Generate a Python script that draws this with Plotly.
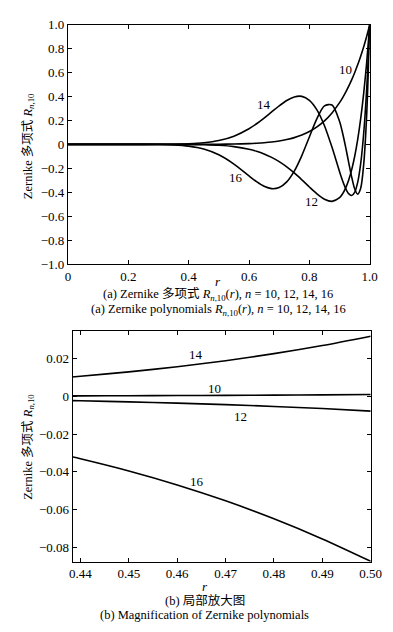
import plotly.graph_objects as go

# ---------- data: panel (a) ----------
r_full = [0, 0.1, 0.2, 0.3, 0.35, 0.4, 0.45, 0.5, 0.55, 0.6, 0.625, 0.65, 0.675, 0.7,
          0.725, 0.75, 0.775, 0.8, 0.825, 0.85, 0.875, 0.9, 0.91, 0.92, 0.93, 0.94,
          0.95, 0.96, 0.97, 0.98, 0.99, 1.0]
R10 = [0, 0, 0, 0.0000059, 0.0000276, 0.000105, 0.000341, 0.000977, 0.002533, 0.006047,
       0.009095, 0.013463, 0.019635, 0.028248, 0.040122, 0.056314, 0.078166, 0.107374,
       0.146063, 0.196875, 0.263076, 0.348678, 0.389416, 0.434388, 0.483982, 0.538615,
       0.598737, 0.664833, 0.737424, 0.817073, 0.904382, 1.0]
R12 = [0, 0, 0, -0.000059, -0.000263, -0.000952, -0.002918, -0.007813, -0.018668, -0.040391,
       -0.057412, -0.079835, -0.108630, -0.144627, -0.188270, -0.239330, -0.296440, -0.356480,
       -0.413730, -0.458720, -0.476820, -0.446310, -0.413870, -0.366270, -0.300650, -0.213720,
       -0.101790, 0.039360, 0.214440, 0.428800, 0.688420, 1.0]
R14 = [0, 0, 0, 0.000311, 0.001331, 0.004548, 0.012988, 0.031921, 0.068739, 0.130810,
       0.172330, 0.219900, 0.271230, 0.322280, 0.366880, 0.396620, 0.401030, 0.368680,
       0.288960, 0.156040, -0.024970, -0.228350, -0.303860, -0.367750, -0.412210, -0.427340,
       -0.401100, -0.318460, -0.161270, 0.092410, 0.469010, 1.0]
R16 = [0, 0, 0, -0.001171, -0.004736, -0.015092, -0.039566, -0.087463, -0.164840, -0.263980,
       -0.312330, -0.350790, -0.370230, -0.360820, -0.313700, -0.223900, -0.093990, 0.061910,
       0.215370, 0.321990, 0.328710, 0.191950, 0.094860, -0.021200, -0.148000, -0.271420,
       -0.370910, -0.416380, -0.366940, -0.166840, 0.257210, 1.0]

# ---------- data: panel (b) ----------
r_zoom = [0.438, 0.44, 0.45, 0.46, 0.47, 0.48, 0.49, 0.5]
Z10 = [0.000260, 0.000272, 0.000341, 0.000424, 0.000526, 0.000649, 0.000798, 0.000977]
Z12 = [-0.002260, -0.002360, -0.002918, -0.003589, -0.004392, -0.005347, -0.006478, -0.007813]
Z14 = [0.010244, 0.010664, 0.012988, 0.015723, 0.018925, 0.022651, 0.026962, 0.031921]
Z16 = [-0.031908, -0.033095, -0.039566, -0.046979, -0.055412, -0.064934, -0.075602, -0.087463]

# ---------- tick labels ----------
xa_vals = [0, 0.2, 0.4, 0.6, 0.8, 1.0]
xa_text = ["0", "0.2", "0.4", "0.6", "0.8", "1.0"]
ya_vals = [1.0, 0.8, 0.6, 0.4, 0.2, 0, -0.2, -0.4, -0.6, -0.8, -1.0]
ya_text = ["1.0", "0.8", "0.6", "0.4", "0.2", "0", "\u22120.2", "\u22120.4", "\u22120.6",
           "\u22120.8", "\u22121.0"]
xb_vals = [0.44, 0.45, 0.46, 0.47, 0.48, 0.49, 0.50]
xb_text = ["0.44", "0.45", "0.46", "0.47", "0.48", "0.49", "0.50"]
yb_vals = [0.02, 0, -0.02, -0.04, -0.06, -0.08]
yb_text = ["0.02", "0", "\u22120.02", "\u22120.04", "\u22120.06", "\u22120.08"]

# curve labels
labels_a = [("10", 0.92, 0.63), ("14", 0.649, 0.33), ("16", 0.556, -0.28), ("12", 0.808, -0.48)]
labels_b = [("14", 0.4639, 0.0223), ("10", 0.4677, 0.0042), ("12", 0.4731, -0.0109),
            ("16", 0.4641, -0.0452)]

FONT = "'Liberation Serif', 'Noto Sans CJK SC', serif"
W, H = 393, 632

fig = go.Figure()
line = dict(color="black", width=1.6, shape="spline", smoothing=0.8)
for ys in (R10, R12, R14, R16):
    fig.add_trace(go.Scatter(x=r_full, y=ys, mode="lines", line=line,
                             xaxis="x", yaxis="y", showlegend=False, hoverinfo="skip"))
for ys in (Z10, Z12, Z14, Z16):
    fig.add_trace(go.Scatter(x=r_zoom, y=ys, mode="lines", line=line,
                             xaxis="x2", yaxis="y2", showlegend=False, hoverinfo="skip"))

def px_x(p):
    return p / W

def px_y(p):
    return 1 - p / H

axis_common = dict(showline=True, linecolor="black", linewidth=1, mirror="ticks",
                   ticks="inside", ticklen=4, tickcolor="black", showgrid=False,
                   zeroline=False, tickfont=dict(family=FONT, size=13, color="black"))

fig.update_layout(
    width=W, height=H, margin=dict(l=0, r=0, t=0, b=0),
    paper_bgcolor="white", plot_bgcolor="white",
    font=dict(family=FONT, size=13, color="black"),
    xaxis=dict(domain=[px_x(59), px_x(372)], range=[0, 1], tickvals=xa_vals,
               ticktext=xa_text, anchor="y", **axis_common),
    yaxis=dict(domain=[px_y(255), px_y(10)], range=[-1, 1], tickvals=ya_vals,
               ticktext=ya_text, anchor="x", **axis_common),
    xaxis2=dict(domain=[px_x(64), px_x(373)], range=[0.4384, 0.5], tickvals=xb_vals,
                ticktext=xb_text, anchor="y2", **axis_common),
    yaxis2=dict(domain=[px_y(560), px_y(324)], range=[-0.0877, 0.0345], tickvals=yb_vals,
                ticktext=yb_text, anchor="x2", **axis_common),
)

ann = []
for t, x, y in labels_a:
    ann.append(dict(text=t, x=x, y=y, xref="x", yref="y", showarrow=False,
                    xanchor="center", yanchor="middle", font=dict(family=FONT, size=13)))
for t, x, y in labels_b:
    ann.append(dict(text=t, x=x, y=y, xref="x2", yref="y2", showarrow=False,
                    xanchor="center", yanchor="middle", font=dict(family=FONT, size=13)))

ytitle = "Zernike 多项式 <i>R</i><sub><i>n</i>,10</sub>"
for yc in (134, 442):
    ann.append(dict(text=ytitle, x=px_x(18), y=px_y(yc), xref="paper", yref="paper",
                    xanchor="center", yanchor="middle", textangle=-90, showarrow=False,
                    font=dict(family=FONT, size=12.5)))

def cap(text, xc, yc, size=12.5):
    ann.append(dict(text=text, x=px_x(xc), y=px_y(yc), xref="paper", yref="paper",
                    showarrow=False, xanchor="center", yanchor="middle",
                    font=dict(family=FONT, size=size)))

cap("<i>r</i>", 215, 273, 13)
cap("(a) Zernike 多项式 <i>R</i><sub><i>n</i>,10</sub>(<i>r</i>), <i>n</i> = 10, 12, 14, 16", 215, 286.5)
cap("(a) Zernike polynomials <i>R</i><sub><i>n</i>,10</sub>(<i>r</i>), <i>n</i> = 10, 12, 14, 16", 215, 302)
cap("<i>r</i>", 201, 585, 13)
cap("(b) 局部放大图", 201, 600)
cap("(b) Magnification of Zernike polynomials", 201, 614.5)

fig.update_layout(annotations=ann)
fig.write_html("out.html")
